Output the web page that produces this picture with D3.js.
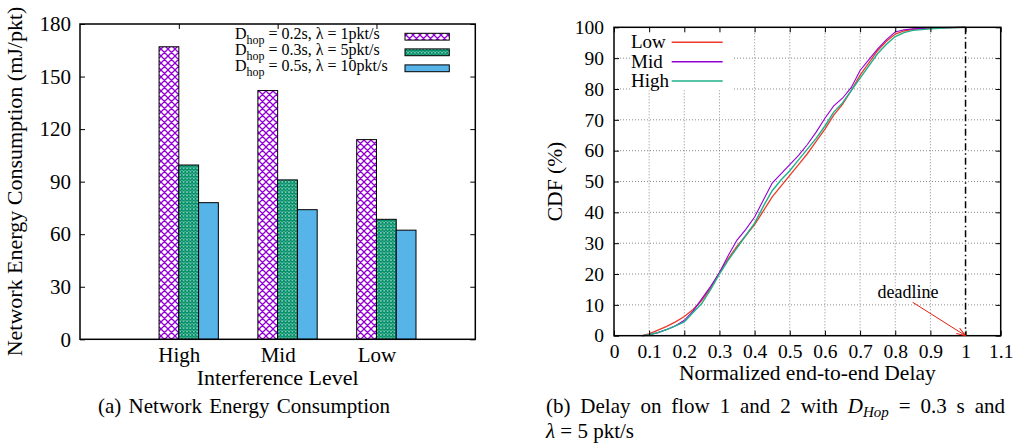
<!DOCTYPE html>
<html><head><meta charset="utf-8">
<script src="https://cdn.jsdelivr.net/npm/d3@7"></script>
<style>
body{margin:0;background:#fff}
svg{display:block;background:#fff}
text{font-family:"Liberation Serif","Times New Roman",serif;fill:#000}
</style></head><body>
<svg id="c" width="1013" height="444"></svg>
<script>
// ---------- data: chart (a) ----------
const levels = ["High", "Mid", "Low"];
const energyD02 = [167, 142, 114];     // D_hop = 0.2s, λ = 1pkt/s
const energyD03 = [99.5, 91, 68.5];    // D_hop = 0.3s, λ = 5pkt/s
const energyD05 = [78, 74, 62.3];      // D_hop = 0.5s, λ = 10pkt/s
const legendDhop = ["0.2s", "0.3s", "0.5s"];
const legendLambda = ["1pkt/s", "5pkt/s", "10pkt/s"];
const energyTicks = [0, 30, 60, 90, 120, 150, 180];

// ---------- data: chart (b) ----------
const delayX  = [0.08,0.1,0.125,0.15,0.175,0.2,0.225,0.25,0.275,0.3,0.325,0.35,0.375,0.4,0.425,0.45,0.475,0.5,0.525,0.55,0.575,0.6,0.625,0.65,0.675,0.7,0.725,0.75,0.775,0.8,0.825,0.85,0.9,0.95,1.0];
const cdfLow  = [0,0.6,1.8,3,4.5,6.2,8.5,11.5,15.5,20.5,25,29,32.5,36,40.5,45,48.5,52,55.5,59,63,67,71.5,75,79.5,84.5,88.5,92.5,95.5,97.8,98.8,99.3,99.7,99.9,100];
const cdfMid  = [0,0.3,1,2,3.2,5,8,12,16,20.5,26,31,34.5,38.5,44,49.5,52.5,55.5,58.5,62,66,70.5,74.5,77,80.5,86,89.5,93,96,98.5,99.2,99.5,99.8,99.9,100];
const cdfHigh = [0,0.3,1,2,3.2,4.5,7.5,10.5,15,20,24.5,28.5,32.5,36.5,42,47,50.5,53.5,57,60.5,64,68,72.5,75.5,79.5,83.5,87.5,91.5,94.5,97,98.3,99,99.5,99.8,100];
const cdfSeries = ["Low", "Mid", "High"];
const delayTicks = [0,0.1,0.2,0.3,0.4,0.5,0.6,0.7,0.8,0.9,1,1.1];
const cdfTicks = [0,10,20,30,40,50,60,70,80,90,100];
const deadline = 1;

const svg = d3.select("#c");
const defs = svg.append("defs");

// patterns
const p1 = defs.append("pattern").attr("id","hatchP").attr("patternUnits","userSpaceOnUse").attr("width",7).attr("height",7);
p1.append("rect").attr("width",7).attr("height",7).attr("fill","#fff");
p1.append("path").attr("d","M0,0L7,7M7,0L0,7M-1,6L1,8M6,-1L8,1M-1,1L1,-1M6,8L8,6").attr("stroke","#9400d3").attr("stroke-width",1.3);
const p2 = defs.append("pattern").attr("id","hatchG").attr("patternUnits","userSpaceOnUse").attr("width",3.4).attr("height",3.4);
p2.append("rect").attr("width",3.4).attr("height",3.4).attr("fill","#fff");
p2.append("path").attr("d","M0,0L3.4,3.4M3.4,0L0,3.4").attr("stroke","#008f68").attr("stroke-width",1.35);

// ================= chart (a) =================
const A = {x0:80, x1:475.3, y0:24, y1:339.3};
const xA = d3.scaleLinear().domain([-1,3]).range([A.x0,A.x1]);
const yA = d3.scaleLinear().domain([0,180]).range([A.y1,A.y0]);
const gA = svg.append("g");

const series = [
  {vals: energyD02, fill:"url(#hatchP)", off:-0.2},
  {vals: energyD03, fill:"url(#hatchG)", off:0},
  {vals: energyD05, fill:"#56b4e9", off:0.2}
];
series.forEach(s=>{
  gA.selectAll(null).data(s.vals).enter().append("rect")
    .attr("x",(d,i)=>xA(i+s.off))
    .attr("width",xA(0.2)-xA(0))
    .attr("y",d=>yA(d))
    .attr("height",d=>yA(0)-yA(d))
    .attr("fill",s.fill).attr("stroke","#000").attr("stroke-width",1);
});

const axA = gA.append("g").attr("transform",`translate(${A.x0},0)`)
  .call(d3.axisLeft(yA).tickValues(energyTicks).tickSize(-5).tickPadding(9).tickFormat(d3.format("d")));
const axAr = gA.append("g").attr("transform",`translate(${A.x1},0)`)
  .call(d3.axisRight(yA).tickValues(energyTicks).tickSize(-5).tickFormat(""));
const axAb = gA.append("g").attr("transform",`translate(0,${A.y1})`)
  .call(d3.axisBottom(xA).tickValues([0,1,2]).tickSize(0).tickPadding(8).tickFormat(i=>levels[i]));
const axAt = gA.append("g").attr("transform",`translate(0,${A.y0})`)
  .call(d3.axisTop(xA).tickValues([0,1,2]).tickSize(-5).tickFormat(""));
[axA,axAr,axAb,axAt].forEach(a=>{a.select(".domain").remove(); a.selectAll("line").attr("stroke","#000");
  a.selectAll("text").style("font-family",'"Liberation Serif","Times New Roman",serif').style("font-size","21px").attr("fill","#000");});
gA.append("rect").attr("x",A.x0).attr("y",A.y0).attr("width",A.x1-A.x0).attr("height",A.y1-A.y0)
  .attr("fill","none").attr("stroke","#000").attr("stroke-width",1.5);

// legend (a)
const legA = gA.append("g");
const legFills = ["url(#hatchP)","url(#hatchG)","#56b4e9"];
const legRows = [36.7, 52.3, 68.3];
legendDhop.forEach((dh,i)=>{
  const t = legA.append("text").attr("x",235).attr("y",legRows[i]+2.5).style("font-size","16px");
  t.append("tspan").text("D");
  t.append("tspan").attr("dy",5).style("font-size","12px").text("hop");
  t.append("tspan").attr("dy",-5).text(` = ${dh}, λ = ${legendLambda[i]}`);
  legA.append("rect").attr("x",405).attr("y",legRows[i]-3.4).attr("width",44.3).attr("height",6.8)
    .attr("fill",legFills[i]).attr("stroke","#000").attr("stroke-width",1);
});

gA.append("text").attr("transform","translate(22,181.5) rotate(-90)").attr("text-anchor","middle")
  .style("font-size","22px").text("Network Energy Consumption (mJ/pkt)");
gA.append("text").attr("x",(A.x0+A.x1)/2).attr("y",385).attr("text-anchor","middle")
  .style("font-size","22px").text("Interference Level");
gA.append("text").attr("x",244).attr("y",413.3).attr("text-anchor","middle")
  .style("font-size","21px").style("word-spacing","2px").text("(a) Network Energy Consumption");

// ================= chart (b) =================
const B = {x0:614, x1:1000.7, y0:27.3, y1:335.7};
const xB = d3.scaleLinear().domain([0,1.1]).range([B.x0,B.x1]);
const yB = d3.scaleLinear().domain([0,100]).range([B.y1,B.y0]);
const gB = svg.append("g");

// grid
const grid = gB.append("g").attr("stroke","#8a8a8a").attr("stroke-width",1).attr("stroke-dasharray","1,2");
grid.selectAll(null).data(delayTicks.filter(v=>v>0 && v<1.05 && v!==deadline)).enter().append("line")
  .attr("x1",d=>xB(d)).attr("x2",d=>xB(d)).attr("y1",B.y0).attr("y2",B.y1);
grid.selectAll(null).data(cdfTicks.filter(v=>v>0 && v<100)).enter().append("line")
  .attr("x1",B.x0).attr("x2",B.x1).attr("y1",d=>yB(d)).attr("y2",d=>yB(d));

// legend background (opaque)
gB.append("rect").attr("x",631).attr("y",B.y0+1).attr("width",102).attr("height",62).attr("fill","#fff");

// deadline
gB.append("line").attr("x1",xB(deadline)).attr("x2",xB(deadline)).attr("y1",B.y0).attr("y2",B.y1)
  .attr("stroke","#000").attr("stroke-width",1.5).attr("stroke-dasharray","7,3,1.5,3");

// curves
const cdfData = [cdfLow, cdfMid, cdfHigh];
const cdfColors = ["#ec3a2a","#9400d3","#1fb08a"];
const cdfWidths = [1.3,1.1,1.4];
const line = d3.line().x((d,i)=>xB(delayX[i])).y(d=>yB(d));
cdfData.forEach((arr,k)=>{
  gB.append("path").datum(arr).attr("d",line).attr("fill","none")
    .attr("stroke",cdfColors[k]).attr("stroke-width",cdfWidths[k]);
});

// axes (b)
const bl = gB.append("g").attr("transform",`translate(${B.x0},0)`)
  .call(d3.axisLeft(yB).tickValues(cdfTicks).tickSize(-5).tickPadding(10).tickFormat(d3.format("d")));
const br = gB.append("g").attr("transform",`translate(${B.x1},0)`)
  .call(d3.axisRight(yB).tickValues(cdfTicks).tickSize(-5).tickFormat(""));
const bb = gB.append("g").attr("transform",`translate(0,${B.y1})`)
  .call(d3.axisBottom(xB).tickValues(delayTicks).tickSize(-5).tickPadding(8).tickFormat(d=>d3.format("~g")(d)));
const bt = gB.append("g").attr("transform",`translate(0,${B.y0})`)
  .call(d3.axisTop(xB).tickValues(delayTicks).tickSize(-5).tickFormat(""));
[bl,br,bb,bt].forEach(a=>{a.select(".domain").remove(); a.selectAll("line").attr("stroke","#000");
  a.selectAll("text").style("font-family",'"Liberation Serif","Times New Roman",serif').style("font-size","19.5px").attr("fill","#000");});
gB.append("rect").attr("x",B.x0).attr("y",B.y0).attr("width",B.x1-B.x0).attr("height",B.y1-B.y0)
  .attr("fill","none").attr("stroke","#000").attr("stroke-width",1.5);

// legend (b)
const legB = [42.3, 61.7, 81];
cdfSeries.forEach((s,k)=>{
  gB.append("text").attr("x",631).attr("y",legB[k]+5.8).style("font-size","19px").text(s);
  gB.append("line").attr("x1",671.7).attr("x2",722.7).attr("y1",legB[k]).attr("y2",legB[k])
    .attr("stroke",cdfColors[k]).attr("stroke-width",cdfWidths[k]+0.3);
});

// deadline annotation
defs.append("marker").attr("id","arr").attr("viewBox","0 0 10 10").attr("refX",10).attr("refY",5)
  .attr("markerWidth",9).attr("markerHeight",9).attr("markerUnits","userSpaceOnUse").attr("orient","auto")
  .append("path").attr("d","M0,1.5L10,5L0,8.5").attr("fill","none").attr("stroke","#e51e10").attr("stroke-width",1.2);
gB.append("text").attr("x",908).attr("y",298).attr("text-anchor","middle").style("font-size","18px").text("deadline");
gB.append("line").attr("x1",912.7).attr("y1",302.3).attr("x2",xB(deadline)).attr("y2",yB(0))
  .attr("stroke","#e51e10").attr("stroke-width",1).attr("marker-end","url(#arr)");

gB.append("text").attr("transform","translate(562,181.5) rotate(-90)").attr("text-anchor","middle")
  .style("font-size","21.5px").text("CDF (%)");
gB.append("text").attr("x",(B.x0+B.x1)/2).attr("y",380).attr("text-anchor","middle")
  .style("font-size","21.5px").text("Normalized end-to-end Delay");

// caption (b), justified first line
const c1 = gB.append("text").attr("x",546).attr("y",413.3).style("font-size","21px");
c1.append("tspan").text("(b) Delay on flow 1 and 2 with ");
c1.append("tspan").style("font-style","italic").text("D");
c1.append("tspan").attr("dy",4).style("font-style","italic").style("font-size","15px").text("Hop");
c1.append("tspan").attr("dy",-4).text(" = 0.3 s and");
const natural = c1.node().getComputedTextLength();
const spaces = 12;
c1.style("word-spacing", ((1005-546-natural)/spaces)+"px");
const c2 = gB.append("text").attr("x",546).attr("y",438).style("font-size","21px");
c2.append("tspan").style("font-style","italic").text("λ");
c2.append("tspan").text(" = 5 pkt/s");
</script>
</body></html>
